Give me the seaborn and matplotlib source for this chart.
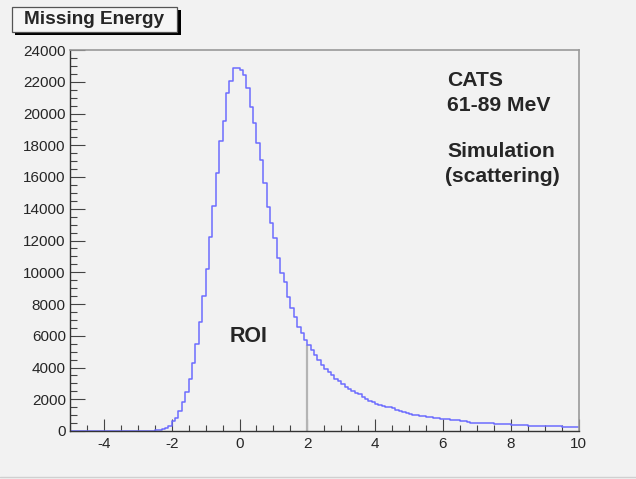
import numpy as np
import pandas as pd
import seaborn as sns
import matplotlib
matplotlib.use("Agg")
import matplotlib.pyplot as plt
from matplotlib.patches import Rectangle
from matplotlib.lines import Line2D
from matplotlib.ticker import MultipleLocator

# ---------------- data ----------------
title_text = "Missing Energy"
bin_edges = [round(v, 1) for v in np.arange(-5.0, 10.0001, 0.1)]   # 150 bins of width 0.1
counts = [
    # -5.0 .. -2.8
    0, 0, 0, 0, 0, 0, 0, 0, 0, 0,
    0, 0, 0, 0, 0, 0, 0, 0, 0, 0,
    0, 0, 0,
    # -2.7 .. -2.0
    10, 30, 50, 80, 120, 180, 300, 600,
    # -1.9 .. -1.0
    850, 1250, 1800, 2450, 3250, 4300, 5450, 6850, 8500, 10200,
    # -0.9 .. 0.0
    12200, 14150, 16250, 18290, 19550, 21270, 22070, 22850, 22850, 22720,
    # 0.1 .. 1.0
    22450, 21590, 20430, 19380, 18120, 17070, 15600, 14130, 13080, 12140,
    # 1.1 .. 2.0
    10880, 9930, 9400, 8460, 7730, 7200, 6570, 6150, 5730, 5420,
    # 2.1 .. 3.0
    5100, 4790, 4470, 4160, 3900, 3700, 3500, 3300, 3150, 2980,
    # 3.1 .. 4.0
    2800, 2650, 2530, 2400, 2300, 2150, 2020, 1920, 1820, 1720,
    # 4.1 .. 5.0
    1640, 1600, 1540, 1490, 1420, 1340, 1280, 1200, 1130, 1080,
    # 5.1 .. 6.0
    1030, 980, 950, 930, 910, 890, 850, 800, 760, 750,
    # 6.1 .. 7.0
    740, 720, 700, 680, 640, 600, 560, 520, 500, 490,
    # 7.1 .. 8.0
    485, 480, 480, 475, 470, 470, 465, 455, 440, 390,
    # 8.1 .. 9.0
    380, 370, 360, 350, 345, 340, 335, 330, 325, 310,
    # 9.1 .. 9.9
    305, 300, 295, 290, 280, 275, 270, 265, 260,
]
x_ticks = [-4, -2, 0, 2, 4, 6, 8, 10]
y_ticks = [0, 2000, 4000, 6000, 8000, 10000, 12000, 14000, 16000, 18000, 20000, 22000, 24000]
roi_x = 2.0
label_lines = ["CATS", "61-89 MeV", "Simulation", "(scattering)"]
roi_label = "ROI"

# ---------------- style ----------------
sns.set_style("ticks")
plt.rcParams['font.family'] = ['Liberation Sans', 'DejaVu Sans']
bg = "#f2f2f2"
line_color = "#6c6cff"

W, H = 636, 479
fig = plt.figure(figsize=(W / 100, H / 100), dpi=100, facecolor=bg)
ax = fig.add_axes([70 / W, 1 - 431 / H, (578.5 - 70) / W, (431 - 50) / H])
ax.set_facecolor(bg)

centers = [round(e + 0.05, 2) for e in bin_edges[:-1]]
df = pd.DataFrame({"x": centers, "w": counts})
sns.histplot(data=df, x="x", weights="w", bins=bin_edges, element="step",
             fill=False, color=line_color, linewidth=1.1, ax=ax)

# ROI boundary line at x = 2
roi_idx = int(np.argmin(np.abs(np.array(bin_edges[:-1]) - roi_x)))
ax.vlines(roi_x, 0, counts[roi_idx], color="#b4b4b4", linewidth=1.6, zorder=1)

ax.set_xlim(-5, 10)
ax.set_ylim(0, 24000)
ax.set_xlabel("")
ax.set_ylabel("")
ax.set_xticks(x_ticks)
ax.set_yticks(y_ticks)
ax.set_xticklabels([str(t) for t in x_ticks])
ax.set_yticklabels([str(t) for t in y_ticks])
ax.xaxis.set_minor_locator(MultipleLocator(0.5))
ax.yaxis.set_minor_locator(MultipleLocator(500))

ax.tick_params(axis='y', which='major', direction='in', length=10.5, width=0.8,
               color='#444444', labelsize=11, pad=3)
ax.tick_params(axis='y', which='minor', direction='in', length=5, width=0.8,
               color='#444444')
ax.tick_params(axis='x', which='major', direction='in', length=8.5, width=0.8,
               color='#444444', labelsize=11, pad=4.5)
ax.tick_params(axis='x', which='minor', direction='in', length=4.3, width=0.8,
               color='#444444')

for side in ['left', 'bottom']:
    ax.spines[side].set_color('#333333')
    ax.spines[side].set_linewidth(1.0)
for side in ['top', 'right']:
    ax.spines[side].set_visible(True)
    ax.spines[side].set_color('#9a9a9a')
    ax.spines[side].set_linewidth(1.2)

# annotations
ax.text(6.12, 21760, label_lines[0], fontsize=15.2, fontweight='bold', ha='left', va='baseline')
ax.text(6.12, 20160, label_lines[1], fontsize=15.2, fontweight='bold', ha='left', va='baseline')
ax.text(6.12, 17280, label_lines[2], fontsize=15.2, fontweight='bold', ha='left', va='baseline')
ax.text(6.05, 15710, label_lines[3], fontsize=15.2, fontweight='bold', ha='left', va='baseline')
ax.text(-0.30, 5590, roi_label, fontsize=15.5, fontweight='bold', ha='left', va='baseline')

# title box with drop shadow
def px_rect(x0, y0, x1, y1, **kw):
    return Rectangle((x0 / W, 1 - y1 / H), (x1 - x0) / W, (y1 - y0) / H,
                     transform=fig.transFigure, **kw)

fig.add_artist(px_rect(15, 10, 181, 35, facecolor='black', edgecolor='none', zorder=5))
fig.add_artist(px_rect(12, 7, 177, 32, facecolor='#f6f6f6', edgecolor='#555555',
                       linewidth=0.9, zorder=6))
fig.text(94.5 / W, 1 - 19.5 / H, title_text, fontsize=13.7, fontweight='bold',
         ha='center', va='center', zorder=7)

# canvas bottom border
fig.add_artist(Line2D([0, 1], [1 - 477 / H, 1 - 477 / H], transform=fig.transFigure,
                      color='#d0d0d0', linewidth=1.0))

fig.savefig("out.png", dpi=100, facecolor=bg)
